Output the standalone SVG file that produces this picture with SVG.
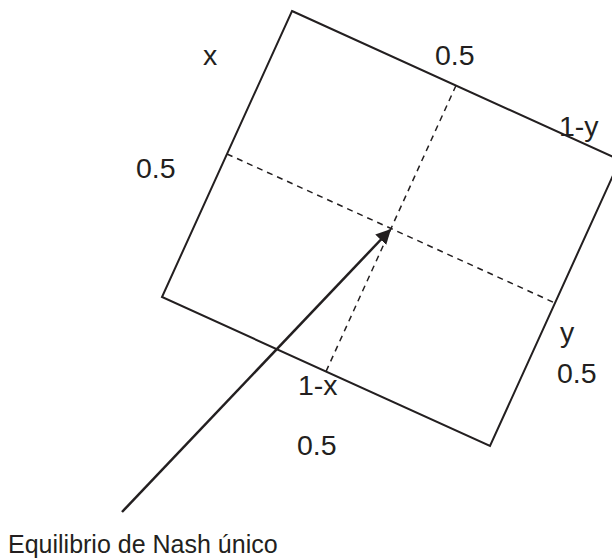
<svg xmlns="http://www.w3.org/2000/svg" width="612" height="560" viewBox="0 0 612 560">
<defs>
<style>
.lbl{font-family:"Liberation Sans",Arial,sans-serif;font-size:28.5px;fill:#231f20}
.cap{font-family:"Liberation Sans",Arial,sans-serif;font-size:25px;fill:#231f20}
.edge{fill:none;stroke:#231f20;stroke-width:2}
.dash{fill:none;stroke:#231f20;stroke-width:1.5;stroke-dasharray:6 5}
</style>
<marker id="ah" viewBox="0 0 10 10" refX="9" refY="5" markerWidth="6" markerHeight="6" markerUnits="strokeWidth" orient="auto">
<path d="M0,0 L10,5 L0,10 z" fill="#231f20"/>
</marker>
</defs>
<rect width="612" height="560" fill="#fff"/>
<g id="square">
<polygon class="edge" points="292,11 620,160 490,446 162,297"/>
</g>
<g id="connectors">
<line class="dash" x1="456" y1="85.5" x2="326" y2="371.5"/>
<line class="dash" x1="227" y1="154" x2="555" y2="303"/>
<line x1="122" y1="512" x2="390" y2="230" stroke="#231f20" stroke-width="2.5" marker-end="url(#ah)"/>
</g>
<g id="labels">
<text class="lbl" x="203" y="65">x</text>
<text class="lbl" x="435" y="65">0.5</text>
<text class="lbl" x="559" y="136">1-y</text>
<text class="lbl" x="136" y="178">0.5</text>
<text class="lbl" x="560" y="342">y</text>
<text class="lbl" x="557" y="383">0.5</text>
<text class="lbl" x="298" y="395">1-x</text>
<text class="lbl" x="297" y="455">0.5</text>
</g>
<g id="caption">
<text class="cap" x="8" y="553">Equilibrio de Nash único</text>
</g>
</svg>
